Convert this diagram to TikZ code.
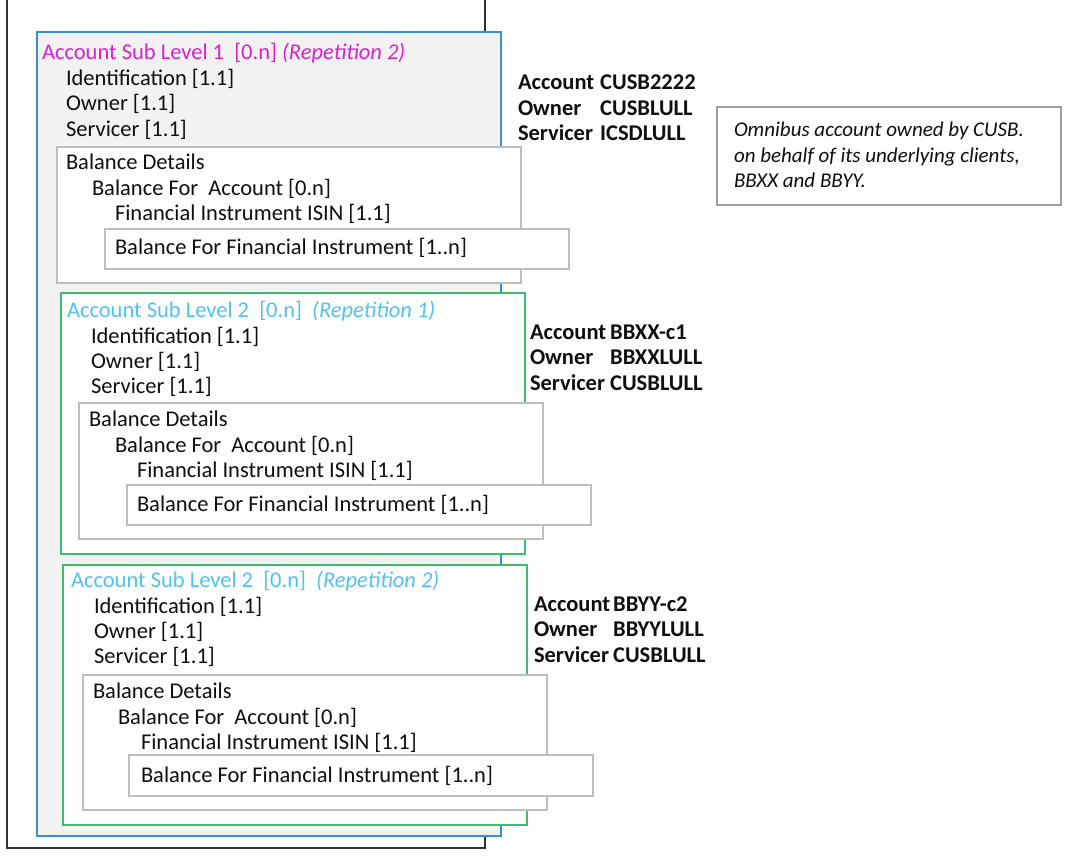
\documentclass[tikz,border=0pt]{standalone}
\usepackage{fontspec}
\setmainfont{Carlito}
\usepackage{xcolor}
\usetikzlibrary{positioning}
\usetikzlibrary{calc}

\definecolor{frameblack}{RGB}{50,50,50}
\definecolor{acctblue}{RGB}{58,142,208}
\definecolor{panelgray}{RGB}{242,242,242}
\definecolor{subgreen}{RGB}{60,190,110}
\definecolor{boxgray}{RGB}{190,190,190}
\definecolor{notegray}{RGB}{160,160,160}
\definecolor{titlemagenta}{RGB}{222,30,210}
\definecolor{titlecyan}{RGB}{80,195,245}
\definecolor{textdark}{RGB}{15,15,15}

\tikzset{
    txt/.style={anchor=base west, inner sep=0pt, outer sep=0pt, text=textdark, font=\fontsize{22.5}{25.5}\selectfont},
    hdr/.style={txt, font=\fontsize{22.5}{25.5}\selectfont\bfseries},
    notetxt/.style={txt, font=\fontsize{21}{25}\selectfont\itshape},
    panel/.style={anchor=north west, inner sep=0pt, outer sep=0pt, minimum width=464pt, line width=2pt},
    balbox/.style={panel, draw=boxgray, fill=white}
}

\begin{document}
\begin{tikzpicture}[x=1pt, y=-1pt, thick]
    \useasboundingbox (0,0) rectangle (1065,856);

    % Outer frame (open at the top)
    \coordinate (frametl) at (7,0);
    \coordinate (framebr) at (485,848);
    \draw[frameblack, line width=2.5pt] (frametl) |- (framebr) -- (framebr |- frametl);

    % Account Sub Level 1
    \node[panel, draw=acctblue, fill=panelgray, minimum height=804pt] (lvl1) at (37,32) {};
    \node[txt, text=titlemagenta] (lvl1title) at (42,60) {Account Sub Level 1~ [0.n] \textit{(Repetition 2)}};
    \node[txt] (lvl1id) at (66,86) {Identification [1.1]};
    \node[txt] (lvl1own) at (66,111) {Owner [1.1]};
    \node[txt] (lvl1serv) at (66,136) {Servicer [1.1]};

    % Balance details (same block in every level)
    \foreach \i/\bx/\by in {1/57/147} {
        \node[balbox, minimum height=136pt] (bal\i) at (\bx,\by) {};
        \node[txt] (bald\i) at (\bx+9,\by+22) {Balance Details};
        \node[txt] (balacct\i) at (\bx+35,\by+48) {Balance For~ Account [0.n]};
        \node[txt] (balisin\i) at (\bx+58,\by+73) {Financial Instrument ISIN [1.1]};
        \node[balbox, minimum height=40pt] (balfi\i) at (\bx+48,\by+82) {};
        \node[txt] (balfitxt\i) at (\bx+58,\by+107) {Balance For Financial Instrument [1..n]};
    }

    % Account Sub Level 2, repetition 1
    \node[panel, draw=subgreen, fill=white, minimum height=261pt] (lvl2a) at (61,293) {};
    \node[txt, text=titlecyan] (lvl2atitle) at (67,317) {Account Sub Level 2~ [0.n]~ \textit{(Repetition 1)}};
    \node[txt] (lvl2aid) at (91,343) {Identification [1.1]};
    \node[txt] (lvl2aown) at (91,368) {Owner [1.1]};
    \node[txt] (lvl2aserv) at (91,393) {Servicer [1.1]};

    \foreach \i/\bx/\by in {2/79/403} {
        \node[balbox, minimum height=136pt] (bal\i) at (\bx,\by) {};
        \node[txt] (bald\i) at (\bx+10,\by+23) {Balance Details};
        \node[txt] (balacct\i) at (\bx+36,\by+49) {Balance For~ Account [0.n]};
        \node[txt] (balisin\i) at (\bx+58,\by+74) {Financial Instrument ISIN [1.1]};
        \node[balbox, minimum height=40pt] (balfi\i) at (\bx+48,\by+82) {};
        \node[txt] (balfitxt\i) at (\bx+58,\by+108) {Balance For Financial Instrument [1..n]};
    }

    % Account Sub Level 2, repetition 2
    \node[panel, draw=subgreen, fill=white, minimum height=260pt] (lvl2b) at (63,565) {};
    \node[txt, text=titlecyan] (lvl2btitle) at (71,587) {Account Sub Level 2~ [0.n]~ \textit{(Repetition 2)}};
    \node[txt] (lvl2bid) at (94,613) {Identification [1.1]};
    \node[txt] (lvl2bown) at (94,638) {Owner [1.1]};
    \node[txt] (lvl2bserv) at (94,663) {Servicer [1.1]};

    \foreach \i/\bx/\by in {3/83/675} {
        \node[balbox, minimum height=135pt] (bal\i) at (\bx,\by) {};
        \node[txt] (bald\i) at (\bx+10,\by+23) {Balance Details};
        \node[txt] (balacct\i) at (\bx+35,\by+49) {Balance For~ Account [0.n]};
        \node[txt] (balisin\i) at (\bx+58,\by+74) {Financial Instrument ISIN [1.1]};
        \node[balbox, minimum height=41pt] (balfi\i) at (\bx+46,\by+80) {};
        \node[txt] (balfitxt\i) at (\bx+58,\by+107) {Balance For Financial Instrument [1..n]};
    }

    % Account identifiers beside each level
    \node[hdr] (ids1) at (518,90) {\begin{tabular}[t]{@{}l@{\hspace{6pt}}l@{}}Account & CUSB2222\\ Owner & CUSBLULL\\ Servicer & ICSDLULL\end{tabular}};
    \node[hdr] (ids2) at (530,339) {\begin{tabular}[t]{@{}l@{\hspace{4pt}}l@{}}Account & BBXX-c1\\ Owner & BBXXLULL\\ Servicer & CUSBLULL\end{tabular}};
    \node[hdr] (ids3) at (534,611) {\begin{tabular}[t]{@{}l@{\hspace{3pt}}l@{}}Account & BBYY-c2\\ Owner & BBYYLULL\\ Servicer & CUSBLULL\end{tabular}};

    % Note
    \node[panel, draw=notegray, fill=white, minimum width=344pt, minimum height=98pt, line width=1.5pt] (note) at (717,107) {};
    \node[notetxt] (note1) at (734,137) {Omnibus account owned by CUSB.};
    \node[notetxt] (note2) at (734,162) {on behalf of its underlying clients,};
    \node[notetxt] (note3) at (734,187) {BBXX and BBYY.};
\end{tikzpicture}
\end{document}
